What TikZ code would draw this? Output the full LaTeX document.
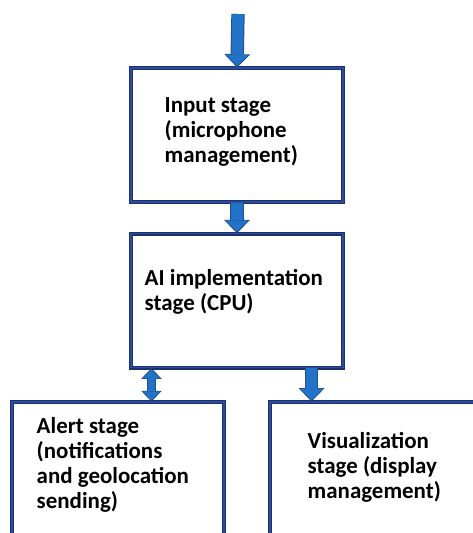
\documentclass[tikz,border=0pt]{standalone}
\usepackage{fontspec}
\setmainfont{Carlito}
\usetikzlibrary{positioning,arrows.meta}
\definecolor{boxline}{HTML}{1C2F6E}
\definecolor{boxcore}{HTML}{2E4A9A}
\definecolor{arrowfill}{HTML}{2272C8}
\definecolor{arrowline}{HTML}{1F4E8C}
\begin{document}
\begin{tikzpicture}[x=0.75pt, y=-0.75pt,
    stage/.style={draw=boxline, line width=0.8pt, double=boxcore, double distance=1.1pt, minimum width=159pt, minimum height=100.5pt, inner sep=0pt},
    stagetext/.style={anchor=base west, align=left, inner sep=0pt, font=\bfseries\fontsize{17.2}{18.75}\selectfont},
    blockarrow/.style={draw=arrowfill, line width=8.5pt, shorten >=1.1pt,
        -{Triangle[width=17pt, length=8.5pt, line width=0pt, fill=arrowfill]},
        preaction={draw=arrowline, line width=10pt, shorten >=0pt,
        -{Triangle[width=19.5pt, length=10pt, line width=0pt, fill=arrowline]}}},
    bothway/.style={draw=arrowfill, line width=5.5pt, shorten >=1.1pt, shorten <=1.1pt,
        {Triangle[width=13pt, length=6.5pt, line width=0pt, fill=arrowfill]}-{Triangle[width=13pt, length=6.5pt, line width=0pt, fill=arrowfill]},
        preaction={draw=arrowline, line width=7pt, shorten >=0pt, shorten <=0pt,
        {Triangle[width=15.5pt, length=8pt, line width=0pt, fill=arrowline]}-{Triangle[width=15.5pt, length=8pt, line width=0pt, fill=arrowline]}}}]
    \useasboundingbox (0,0) rectangle (473,533);
    \clip (0,0) rectangle (473,533);

    % Boxes
    \node[stage] (input) at (237,135) {};
    \node[stage, below=23pt of input] (ai) {};
    \node[stage] (alert) at (118,469) {};
    \node[stage] (display) at (376,469) {};

    % Texts (base = last line)
    \node[stagetext] (inputtext) at ([shift={(34,95)}]input.north west) {Input stage\\(microphone\\management)};
    \node[stagetext] (aitext) at ([shift={(14,77)}]ai.north west) {AI implementation\\stage (CPU)};
    \node[stagetext] (alerttext) at ([shift={(25,107)}]alert.north west) {Alert stage\\(notifications\\and geolocation\\sending)};
    \node[stagetext] (displaytext) at ([shift={(38,97)}]display.north west) {Visualization\\stage (display\\management)};

    % Arrows
    \coordinate (start) at (238,14);
    \draw[blockarrow] (start) -- (input.north);
    \draw[blockarrow] (input.south) -- (ai.north);
    \draw[bothway] ([xshift=15.75pt]ai.south west) -- ([xshift=15.75pt]ai.south west |- alert.north);
    \draw[blockarrow] ([xshift=-24pt]ai.south east) -- ([xshift=-24pt]ai.south east |- display.north);
\end{tikzpicture}
\end{document}
